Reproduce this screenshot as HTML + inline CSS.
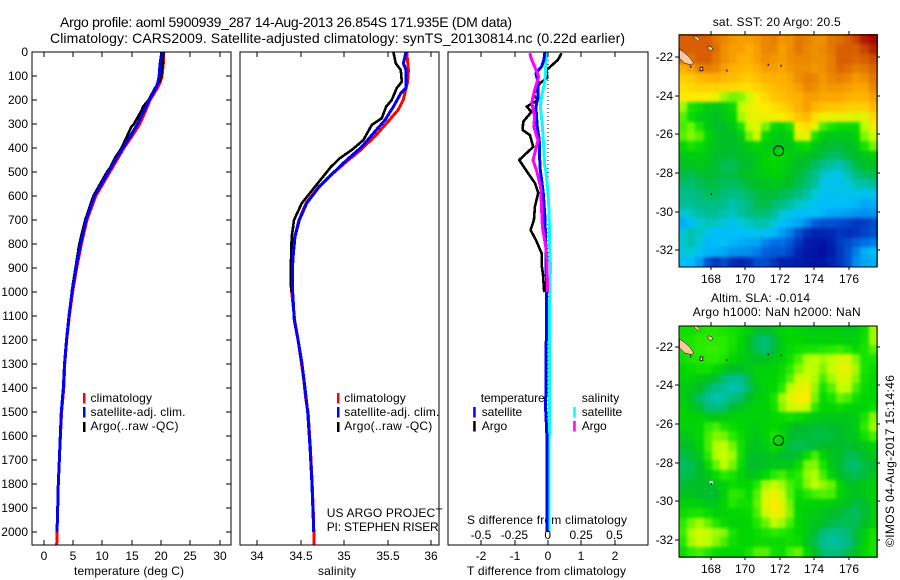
<!DOCTYPE html>
<html lang="en">
<head>
<meta charset="utf-8">
<title>Argo profile 5900939_287</title>
<style>
html,body{margin:0;padding:0;background:#fff;}
svg{display:block;}
text{font-family:"Liberation Sans",sans-serif;font-size:12px;fill:#000;}
.t14{font-size:14px;}
</style>
</head>
<body>
<svg id="chart" xmlns="http://www.w3.org/2000/svg" width="900" height="580" viewBox="0 0 900 580">
<defs>
<filter id="cell-smooth" x="0" y="0" width="1" height="1" color-interpolation-filters="sRGB">
<feGaussianBlur stdDeviation="1.7"/>
<feComponentTransfer><feFuncA type="linear" slope="40"/></feComponentTransfer>
</filter>
</defs>
<rect x="0" y="0" width="900" height="580" fill="#fff"/>
<text class="t14" x="60" y="27" textLength="452" lengthAdjust="spacing">Argo profile: aoml 5900939_287 14-Aug-2013 26.854S 171.935E (DM data)</text>
<text class="t14" x="50" y="43" textLength="575" lengthAdjust="spacing">Climatology: CARS2009. Satellite-adjusted climatology: synTS_20130814.nc (0.22d earlier)</text>

<text x="74" y="575" textLength="110" lengthAdjust="spacing">temperature (deg C)</text>
<text x="318" y="575" textLength="38" lengthAdjust="spacing">salinity</text>
<text x="467" y="575" textLength="159" lengthAdjust="spacing">T difference from climatology</text>
<text x="467" y="524" textLength="160" lengthAdjust="spacing">S difference from climatology</text>

<text x="326.7" y="517" textLength="116" lengthAdjust="spacing">US ARGO PROJECT</text>
<text x="326.7" y="531" textLength="112" lengthAdjust="spacing">PI: STEPHEN RISER</text>

<text x="712.7" y="26" textLength="128" lengthAdjust="spacing">sat. SST: 20 Argo: 20.5</text>
<text x="711" y="302" textLength="99" lengthAdjust="spacing">Altim. SLA: -0.014</text>
<text x="692.7" y="316" textLength="168" lengthAdjust="spacing">Argo h1000: NaN h2000: NaN</text>
<text transform="translate(894,547) rotate(-90)" x="0" y="0" textLength="172" lengthAdjust="spacing">©IMOS 04-Aug-2017 15:14:46</text>

<g>
<rect x="83" y="393" width="2.5" height="10.5" fill="#f00"/>
<rect x="83" y="407" width="2.5" height="10.5" fill="#00f"/>
<rect x="83" y="422" width="2.5" height="10" fill="#000"/>
<text x="90.5" y="402" textLength="61.5" lengthAdjust="spacing">climatology</text>
<text x="90.5" y="416" textLength="95" lengthAdjust="spacing">satellite-adj. clim.</text>
<text x="90.5" y="430" textLength="88" lengthAdjust="spacing">Argo(..raw -QC)</text>
</g>
<g>
<rect x="337" y="393" width="2.5" height="10.5" fill="#f00"/>
<rect x="337" y="407" width="2.5" height="10.5" fill="#00f"/>
<rect x="337" y="422" width="2.5" height="10" fill="#000"/>
<text x="344.3" y="402" textLength="61.5" lengthAdjust="spacing">climatology</text>
<text x="344.3" y="416" textLength="95" lengthAdjust="spacing">satellite-adj. clim.</text>
<text x="344.3" y="430" textLength="88" lengthAdjust="spacing">Argo(..raw -QC)</text>
</g>
<g id="diff-legend-layer"></g>
</svg>
<script>
// ---------- profile data ----------
var tempClimDepth = [0,50,100,125,150,200,250,300,350,400,450,500,600,700,800,900,1000,1100,1200,1300,1400,1500,1600,1700,1800,1900,2000,2054];
var tempClim = [20.5,20.4,20.2,19.9,19.4,18.15,17.3,16.4,15.1,13.7,12.5,11.3,8.9,7.4,6.45,5.65,4.95,4.4,3.95,3.62,3.45,3.08,2.88,2.7,2.52,2.42,2.3,2.25];
var tempSatDepth = [0,50,100,125,150,200,250,300,350,400,450,500,600,700,800,900,1000,1100,1200,1300,1400,1500,1600,1700,1800,1900,2000];
var tempSat = [20.15,19.85,19.7,19.5,19.15,18,17,16,14.8,13.5,12.25,11.04,8.65,7.24,6.3,5.54,4.86,4.34,3.92,3.58,3.38,3.03,2.86,2.7,2.52,2.42,2.3];
var tempArgoDepth = [0,50,110,120,150,200,230,240,300,310,400,440,480,500,600,700,800,900,1000];
var tempArgo = [20.4,20.3,20,19.8,19,17.9,16.9,16.8,15.4,15,13.3,12.2,11.4,10.8,8.5,7.1,6.1,5.45,4.8];

var salClimDepth = [0,75,125,200,242,296,349,408,462,512,561,630,700,770,840,910,977,1048,1117,1200,1300,1367,1450,1504,1644,1783,1921,2054];
var salClim = [35.72,35.74,35.73,35.68,35.62,35.49,35.36,35.19,35.01,34.85,34.71,34.56,34.48,34.43,34.41,34.39,34.39,34.41,34.43,34.47,34.51,34.535,34.56,34.585,34.61,34.63,34.645,34.655];
var salSatDepth = [0,47,75,150,172,228,283,339,395,450,512,561,630,700,770,840,910,977,1048,1117,1200,1300,1367,1450,1504,1644,1783,1921,2000];
var salSat = [35.713,35.682,35.713,35.713,35.652,35.567,35.471,35.336,35.203,35.03,34.849,34.714,34.569,34.484,34.434,34.415,34.403,34.403,34.415,34.426,34.469,34.515,34.538,34.565,34.581,34.607,34.627,34.642,34.65];
var salArgoDepth = [0,47,75,124,150,200,228,276,304,367,408,442,478,492,561,630,700,770,910,1000];
var salArgo = [35.567,35.594,35.652,35.664,35.606,35.548,35.483,35.433,35.318,35.221,35.088,34.953,34.849,34.818,34.665,34.512,34.423,34.396,34.385,34.39];

var dTempArgoDepth = [5,33,75,108,130,179,200,228,249,290,325,346,395,408,450,492,546,587,645,700,742,783,838,895,936,992,1000];
var dTempArgo = [0.41,0.3,-0.04,-0.02,-0.24,-0.44,-0.3,-0.64,-0.49,-0.74,-0.76,-0.54,-0.44,-0.54,-0.86,-0.66,-0.39,-0.29,-0.39,-0.42,-0.52,-0.36,-0.19,-0.18,-0.14,-0.12,-0.1];
var dTempSatDepth = [0,33,61,89,130,186,228,311,367,478,587,686,825,1033,1400,1480,1600,2000];
var dTempSat = [-0.09,-0.12,-0.19,-0.36,-0.29,-0.29,-0.36,-0.32,-0.26,-0.24,-0.14,-0.09,-0.06,-0.04,-0.06,-0.07,-0.03,-0.025];
var dSalSatDepth = [0,61,117,186,228,311,400,478,492,587,660,825,890,1033,1400,2000];
var dSalSat = [-0.005,-0.015,-0.02,-0.047,-0.055,-0.04,-0.03,-0.022,-0.015,0.002,0.01,0.015,0.02,0.015,0.012,0.01];
var dSalArgoDepth = [5,33,61,103,158,212,270,311,367,450,492,561,645,728,811,880,920,1000];
var dSalArgo = [-0.135,-0.12,-0.098,-0.068,-0.098,-0.12,-0.098,-0.105,-0.073,-0.11,-0.085,-0.053,-0.047,-0.04,-0.015,-0.005,-0.005,0];

// ---------- tick labels ----------
var depthTicks = [0,100,200,300,400,500,600,700,800,900,1000,1100,1200,1300,1400,1500,1600,1700,1800,1900,2000];
var tempTicks = [0,5,10,15,20,25,30];
var salTicks = [34,34.5,35,35.5,36];
var dTempTicks = [-2,-1,0,1,2];
var dSalTicks = [-0.5,-0.25,0,0.25,0.5];
var lonTicks = [168,170,172,174,176];
var sstLatTicks = [-22,-24,-26,-28,-30,-32];
var slaLatTicks = [-22,-24,-26,-28,-30,-32];
var argoLon = [171.935];
var argoLat = [-26.854];

// ---------- gridded map data (colour level, 0 = coldest/lowest, 11 = warmest/highest) ----------
var sstGrid = [
[10,10,10,10,9.7,9.5,9.3,9.2,9.2,9.3,9.5,9.6,9.3,9.4,9.7,9.6,9.4,9.4,9.7,9.8,10,10.3,10.8,11],
[10,10,10,10,9.8,9.4,9.2,9.2,9,9.2,9.5,9.5,9.2,9.4,9.7,9.5,9.4,9.5,9.7,10,10,10,10.3,10.7],
[9.7,9.7,10,10,9.7,9.4,9.2,9,9,9.2,9.4,9.3,9.2,9.4,9.5,9.5,9.4,9.4,9.6,10,10,9.9,10,10.2],
[9,9.2,9.5,9.6,9.5,9.2,9,8.9,8.8,9,9.2,9.2,9.1,9.3,9.4,9.4,9.3,9.4,9.6,9.9,9.8,9.6,9.7,9.9],
[8.5,8.6,8.8,8.9,9,8.9,8.8,8.6,8.5,8.7,8.9,9,9,9.1,9.4,9.6,9.5,9.3,9.5,9.6,9.5,9.3,9.4,9.7],
[8.2,8.3,8.4,8.4,8.4,8.3,8.3,8.2,8.2,8.4,8.6,8.8,8.9,9,9.2,9.5,9.4,9.2,9.3,9.3,9.2,9.1,9.1,9.5],
[8,8,8,7.9,7.7,6.8,6.5,6.6,7.2,8,8.3,8.6,8.7,8.9,9,9.2,9.2,9.1,9.1,9.1,9,8.9,8.9,9.2],
[6.8,5.8,5.6,5.3,5.2,5.3,5.6,7,7.6,7.8,8,8.2,8.4,8.6,9,9.2,8.9,8.7,8.6,8.6,8.5,8.5,8.5,8.8],
[6.3,5.6,5.3,5.2,5.1,5.2,5.4,6.8,7.5,7.7,7.7,7.8,7.9,8.2,8.6,8.8,8.2,7.8,7.7,7.7,7.6,7.4,7.5,8.3],
[6.2,6.5,5.8,5.2,5,5,5.2,5.8,7.2,7.5,6.5,5.6,5.5,5.8,8,8.2,7.5,6.2,5.8,5.6,5.6,5.6,7,7.8],
[6.3,6.6,6.3,5.5,5.1,5,5,5.3,6.5,7.2,5.6,5.3,5.2,5.4,7.5,7.6,5.8,5.3,5.2,5.2,5.2,5.4,6.6,7.2],
[5.5,5.8,5.6,5.3,5.1,5,5,5.1,5.3,5.5,5.3,5.2,5.2,5.2,5.5,5.6,5.2,5,4.9,4.9,5,5.2,5.8,6.5],
[5.2,5.3,5.3,5.2,5,5,4.9,5,5.1,5.2,5.4,5.5,5.5,5.3,5.2,5.1,5,4.8,4.6,4.6,4.8,5,5.2,5.3],
[5.1,5.1,5.2,5.1,4.9,4.7,4.7,4.9,5,5.2,5.4,5.5,5.4,5.2,5,4.9,4.6,4.2,3.9,3.8,4.2,4.8,5,5.1],
[4.8,4.7,4.9,5,4.9,4.8,4.8,5,5.1,5.2,5.3,5.4,5.3,5.1,4.9,4.6,4.2,3.6,3.3,3.3,3.7,4.2,4.6,4.7],
[4.5,4.5,4.7,4.8,4.8,4.6,4.6,4.7,4.9,5,5.1,5.2,5.1,5,4.7,4.4,3.9,3.3,3.2,3.2,3.4,3.8,3.8,4],
[4.2,4.2,4.4,4.6,4.6,4.4,4.2,4.3,4.6,4.8,4.9,4.9,4.7,4.6,4.3,3.9,3.5,3.2,3.1,3.2,3.2,3.2,3.1,3.2],
[4,4,4.2,4.3,4.3,4.1,3.8,4,4.3,4.7,4.8,4.5,4.2,3.9,3.6,3.4,3.2,3,3,3,3,2.9,2.7,2.8],
[3.5,3.6,3.9,4,4,3.8,3.7,3.9,4.2,4.4,4.4,4,3.5,3.2,3,3,3,2.9,2.7,2.7,2.6,2.5,2.4,2.5],
[2.8,3.1,3.5,3.7,3.6,3.4,3.2,3.4,3.6,3.8,3.8,3.4,3,2.9,2.7,2.3,1.8,1.6,1.6,1.5,1.4,1.2,1.3,1.5],
[3.4,3.8,3.6,3.2,3,3,3,3,3.1,3.2,3.1,2.9,2.6,2.2,1.6,1.1,0.9,0.9,1,1.2,1.1,1.2,1.4,1.6],
[3.5,3.8,3.4,2.9,3,3.1,2.9,2.8,2.7,2.7,2.3,2,2,1.7,1.2,0.7,0.6,0.5,0.8,1.3,1.5,1.8,2,2.2],
[3.3,3.5,3.1,2.9,2.8,2.7,2.5,2.4,2.4,2.2,1.8,1.7,1.7,1.4,0.9,0.6,0.5,0.4,0.7,1.2,1.6,2.2,2.8,3],
[3,3,2.6,1.6,1.2,1.5,1.1,0.9,1.1,1.5,1.5,1.2,0.8,0.8,0.7,0.6,0.5,0.5,0.9,1.2,1.6,2.4,2.7,2.8]
];
var slaGrid = [
[5.7,5.7,5.8,5.9,5.9,5.8,5.7,5.6,5.3,5,5,5.2,5.4,5.5,5.4,5.3,5.3,5.3,5.3,5.3,5.2,5.3,5.6,6.8],
[5.8,5.8,6,6,6,6,5.8,5.5,5.1,4.6,4.4,4.8,5.3,5.5,5.5,5.4,5.4,5.4,5.4,5.4,5.3,5.4,5.7,6.8],
[5.8,5.9,6,6.1,6.1,6,5.7,5.4,5.1,4.7,4.5,4.9,5.3,5.6,5.7,5.8,5.8,5.9,6,6.1,5.9,5.6,5.8,6.3],
[5.7,5.8,5.9,6,6,5.8,5.5,5.3,5.2,5.1,5.1,5.2,5.4,5.7,6.2,6.9,7,6.8,7,7.4,7.4,6.6,5.8,5.8],
[5.5,5.6,5.7,5.7,5.5,5.2,5,5,5.2,5.4,5.4,5.4,5.6,6,6.6,7,7,6.6,7.1,7.6,7.6,6.8,5.8,5.6],
[5.4,5.4,5.3,5.1,4.9,4.5,4.1,4.2,4.8,5.3,5.4,5.4,5.7,6.3,7.2,7.4,6.9,6.2,6.8,7.4,7.3,6.6,5.7,5.5],
[5.3,5.2,5,4.6,4.3,4,3.8,3.9,4.6,5.2,5.4,5.5,6,7,7.6,7.8,6.7,5.8,6.3,7.1,7,6.2,5.6,5.5],
[5.3,5.1,4.6,4,3.8,3.9,4.3,4.6,5,5.3,5.4,5.8,6.8,7.4,7.9,7.9,6.5,5.6,5.8,6.4,6.2,5.7,5.5,5.5],
[5.4,5.2,4.9,4.4,4.3,4.5,4.9,5.1,5.3,5.4,5.4,5.7,6.6,7.2,7.3,7,6,5.5,5.5,5.6,5.5,5.4,5.4,5.7],
[5.5,5.4,5.4,5.3,5.2,5.3,5.4,5.4,5.4,5.4,5.4,5.5,5.6,5.7,5.6,5.4,5.3,5.2,5.2,5.2,5.2,5.3,5.8,6.6],
[5.4,5.4,5.5,6,6.2,5.8,5.6,5.5,5.3,5.3,5.4,5.5,5.4,5.2,5,5,4.9,4.9,5,5,5.1,5.3,6,6.8],
[5.2,5.3,5.5,6.2,6.6,6.5,6,5.6,5.3,5.2,5.4,5.8,5.5,5,4.9,4.9,4.8,4.8,4.9,5,5.1,5.2,5.7,6.2],
[5,5.1,5.4,6.2,6.9,7,6.5,5.7,5.2,5.1,5.3,5.6,5.3,4.8,4.7,4.8,4.9,5,5,5,4.9,5,5.2,5.4],
[4.8,4.9,5.2,6,6.9,7.2,6.8,5.7,5.1,5,5.1,5.2,5,4.9,5.1,5.6,6.2,5.5,5.1,5,4.7,4.7,5,5.2],
[4.6,4.7,5,5.6,6.4,7,6.5,5.6,5,5,5.1,5.2,5.2,5.2,5.6,6.5,6.6,5.8,5.2,4.9,4.6,4.5,4.8,5],
[4.7,4.8,5,5.2,5.6,6,5.8,5.4,5.2,5.2,5.5,6,6.2,5.8,6,6.7,6.9,6.2,5.5,5,4.8,4.7,4.9,5.2],
[4.9,5,5,5,5.2,5.4,5.6,5.5,5.5,5.9,6.8,7.2,6.8,6.2,5.9,6.6,7,6.7,6.4,5.5,5.1,5.1,5.2,5.3],
[5.1,5.1,5,4.9,5,5.4,6,5.9,5.6,6.3,7.3,7.7,7.2,6.3,5.6,5.9,6.2,6.3,6.2,5.5,5.2,5.1,5.2,5.4],
[5.4,5.4,5.3,5.2,5.2,5.5,5.9,5.7,5.7,6.4,7.5,8,7.6,6.5,5.5,5.4,5.4,5.4,5.3,5.2,5,4.8,5,5.3],
[5.6,5.8,5.8,5.6,5.4,5.4,5.5,5.5,5.6,6.2,7.2,7.8,7.6,6.6,5.5,5.3,5.3,5.2,5,4.9,4.7,4.6,4.9,5.3],
[6,6.5,6.8,6.4,5.9,5.6,5.4,5.4,5.5,5.9,6.4,7,6.8,6.2,5.5,5.3,5.2,5,4.8,4.7,4.7,4.7,5,5.3],
[6.1,6.9,7.3,7,6.8,6.6,5.8,5.5,5.5,5.6,5.8,6,5.9,5.7,5.5,5.3,4.9,4.4,4.2,4.2,4.5,4.9,5.3,5.7],
[5.9,6.8,7.2,7,6.6,6.2,5.7,5.5,5.5,5.6,5.6,5.6,5.6,5.7,5.6,5.2,4.7,4.1,3.9,4,4.3,4.8,5.4,5.8],
[5.6,6,6.2,5.9,5.6,5.5,5.5,5.5,5.8,6.3,6.3,5.7,5.6,6.2,6.4,5.5,5,4.5,4.3,4.4,4.7,5.1,5.5,5.8]
];

// ---------- coastlines (lon, lat) ----------
var newCaledoniaLon = [166.1,166.41,166.8,167,166.9,166.51,166.1];
var newCaledoniaLat = [-21.6,-21.73,-22.03,-22.3,-22.41,-22.33,-22.07];
var loyaltyNorthLon = [167,167.2,167.38,167.3,167.1];
var loyaltyNorthLat = [-20.91,-20.95,-21.12,-21.18,-21.05];
var loyaltySouthLon = [167.85,168.05,168.12,168,167.83];
var loyaltySouthLat = [-21.43,-21.48,-21.62,-21.68,-21.55];
var smallIsleLon = [167.38,167.54,167.54,167.38];
var smallIsleLat = [-22.53,-22.53,-22.71,-22.71];
var rockLon = [166.8,168.9,171.3,172.05,168];
var rockLat = [-22.45,-22.65,-22.35,-22.4,-29.05];

// ---------- helpers ----------
var svg = document.getElementById('chart');
var NS = 'http://www.w3.org/2000/svg';
function mk(tag, name, parent) {
  var el = document.createElementNS(NS, tag);
  
  
  (parent || svg).appendChild(el);
  return el;
}
function scale(d0, d1, p0, p1) { return function (v) { return p0 + (v - d0) * (p1 - p0) / (d1 - d0); }; }
function segment(x1, y1, x2, y2, name, parent) {
  var l = mk('line', name, parent);
  l.setAttribute('x1', x1); l.setAttribute('y1', y1);
  l.setAttribute('x2', x2); l.setAttribute('y2', y2);
  l.setAttribute('stroke', '#000');
  l.setAttribute('stroke-width', 1);
  l.setAttribute('shape-rendering', 'crispEdges');
  return l;
}
function label(x, y, str, anchor, name, parent) {
  var t = mk('text', name, parent);
  t.setAttribute('x', x); t.setAttribute('y', y);
  t.setAttribute('text-anchor', anchor);
  t.textContent = str;
  return t;
}
function frame(x, y, w, h, name, parent) {
  var r = mk('rect', name, parent);
  r.setAttribute('x', x); r.setAttribute('y', y);
  r.setAttribute('width', w); r.setAttribute('height', h);
  r.setAttribute('fill', 'none');
  r.setAttribute('stroke', '#000');
  r.setAttribute('stroke-width', 1.3);
  r.setAttribute('shape-rendering', 'crispEdges');
  return r;
}
function curve(xs, ds, xScale, yScale, color, width, name, parent) {
  var p = mk('polyline', name, parent);
  var pts = [];
  for (var i = 0; i < xs.length; i++) pts.push(xScale(xs[i]).toFixed(2) + ',' + yScale(ds[i]).toFixed(2));
  p.setAttribute('points', pts.join(' '));
  p.setAttribute('fill', 'none');
  p.setAttribute('stroke', color);
  p.setAttribute('stroke-width', width);
  p.setAttribute('stroke-linejoin', 'round');
  p.setAttribute('shape-rendering', 'crispEdges');
  return p;
}

// ---------- shared axes ----------
var TOP = 52, BOTTOM = 545;
var yDepth = scale(0, 2000, 52, 532);

// panel 1: temperature
var p1 = mk('g', 'temperature-panel');
var xTemp = scale(0, 30, 43.5, 219.6);
curve(tempClim, tempClimDepth, xTemp, yDepth, '#f00', 3, 'temperature-climatology-line', p1);
curve(tempArgo, tempArgoDepth, xTemp, yDepth, '#000', 2.6, 'temperature-argo-line', p1);
curve(tempSat, tempSatDepth, xTemp, yDepth, '#00f', 3, 'temperature-satellite-line', p1);
frame(32, TOP, 199, BOTTOM - TOP, 'temperature-plot-frame', p1);
depthTicks.forEach(function (d) {
  var y = Math.round(yDepth(d));
  segment(32, y, 37, y, 'depth-tick-left', p1);
  segment(226, y, 231, y, 'depth-tick-right', p1);
  label(28, y + 4, String(d), 'end', 'depth-tick-label', p1);
});
tempTicks.forEach(function (v) {
  var x = Math.round(xTemp(v));
  segment(x, TOP, x, TOP + 5, 'temperature-tick-top', p1);
  segment(x, BOTTOM - 5, x, BOTTOM, 'temperature-tick-bottom', p1);
  label(x, 560, String(v), 'middle', 'temperature-tick-label', p1);
});

// panel 2: salinity
var p2 = mk('g', 'salinity-panel');
var xSal = scale(34, 36, 257.3, 431);
curve(salClim, salClimDepth, xSal, yDepth, '#f00', 3, 'salinity-climatology-line', p2);
curve(salArgo, salArgoDepth, xSal, yDepth, '#000', 2.6, 'salinity-argo-line', p2);
curve(salSat, salSatDepth, xSal, yDepth, '#00f', 3, 'salinity-satellite-line', p2);
frame(240, TOP, 199, BOTTOM - TOP, 'salinity-plot-frame', p2);
salTicks.forEach(function (v) {
  var x = Math.round(xSal(v));
  segment(x, TOP, x, TOP + 5, 'salinity-tick-top', p2);
  segment(x, BOTTOM - 5, x, BOTTOM, 'salinity-tick-bottom', p2);
  label(x, 560, String(v), 'middle', 'salinity-tick-label', p2);
});

// panel 3: differences
var p3 = mk('g', 'difference-panel');
var xDT = scale(-2, 2, 481.3, 614.5);
var xDS = scale(-0.5, 0.5, 481, 614.5);
var zero = mk('line', 'zero-reference-line', p3);
zero.setAttribute('x1', xDT(0)); zero.setAttribute('x2', xDT(0));
zero.setAttribute('y1', TOP); zero.setAttribute('y2', 532);
zero.setAttribute('stroke', '#000');
zero.setAttribute('stroke-width', 1);
zero.setAttribute('stroke-dasharray', '1 3');
zero.setAttribute('shape-rendering', 'crispEdges');
curve(dTempArgo, dTempArgoDepth, xDT, yDepth, '#000', 2.6, 'temperature-diff-argo-line', p3);
curve(dSalSat, dSalSatDepth, xDS, yDepth, '#0ff', 3, 'salinity-diff-satellite-line', p3);
curve(dTempSat, dTempSatDepth, xDT, yDepth, '#00f', 3, 'temperature-diff-satellite-line', p3);
curve(dSalArgo, dSalArgoDepth, xDS, yDepth, '#f0f', 3, 'salinity-diff-argo-line', p3);
frame(448, TOP, 200, BOTTOM - TOP, 'difference-plot-frame', p3);
dTempTicks.forEach(function (v) {
  var x = Math.round(xDT(v));
  segment(x, TOP, x, TOP + 5, 'temperature-diff-tick-top', p3);
  segment(x, BOTTOM - 5, x, BOTTOM, 'temperature-diff-tick-bottom', p3);
  label(x, 560, String(v), 'middle', 'temperature-diff-tick-label', p3);
});
dSalTicks.forEach(function (v) {
  label(xDS(v), 539, String(v), 'middle', 'salinity-diff-tick-label', p3);
});

// difference legend
var lg = document.getElementById('diff-legend-layer');
var legendItems = [
  ['temperature', 480.7, 402, 64, null],
  ['satellite', 481.7, 416, 40.5, '#00f'],
  ['Argo', 481.7, 430, 25.5, '#000'],
  ['salinity', 581.7, 402, 37.5, null],
  ['satellite', 581.7, 416, 40.5, '#0ff'],
  ['Argo', 581.7, 430, 25, '#f0f']
];
svg.appendChild(lg);
legendItems.forEach(function (it) {
  var t = label(it[1], it[2], it[0], 'start', 'difference-legend-label', lg);
  t.setAttribute('textLength', it[3]);
  t.setAttribute('lengthAdjust', 'spacing');
  if (it[4]) {
    var s = mk('rect', 'difference-legend-swatch', lg);
    s.setAttribute('x', it[1] - 8.5);
    s.setAttribute('y', it[2] - 9);
    s.setAttribute('width', 2.5);
    s.setAttribute('height', 10.5);
    s.setAttribute('fill', it[4]);
  }
});

// ---------- maps ----------
var ramp = [[0,0,0,150],[1,0,40,180],[2,0,110,230],[3,0,190,250],[3.5,0,200,210],[4,0,190,150],[4.5,0,190,110],[5,0,190,40],[5.5,0,215,0],[6,40,235,0],[7,190,255,0],[8,255,235,0],[9,255,175,0],[10,215,95,0],[11,165,10,0]];
function levelColor(v) {
  for (var i = 1; i < ramp.length; i++) {
    if (v <= ramp[i][0]) {
      var a = ramp[i - 1], b = ramp[i], f = (v - a[0]) / (b[0] - a[0]);
      return 'rgb(' + Math.round(a[1] + (b[1] - a[1]) * f) + ',' + Math.round(a[2] + (b[2] - a[2]) * f) + ',' + Math.round(a[3] + (b[3] - a[3]) * f) + ')';
    }
  }
  return 'rgb(165,10,0)';
}
function drawMap(mapName, grid, latTicks, y22, yTopPx, yBottomPx, labelY, isSla) {
  var g = mk('g', mapName);
  var cellsGroup = mk('g', 'map-cells', g);
  cellsGroup.setAttribute('filter', 'url(#cell-smooth)');
  var xLon = scale(168, 176, 710.7, 848.7);
  var yLat = scale(-22, -32, y22, y22 + 193.2);
  var lonMin = 166.18, lonMax = 177.66;
  var latTop = -22 + (y22 - yTopPx) / 19.32, latBot = -22 - (yBottomPx - y22) / 19.32;
  var rows = grid.length, cols = grid[0].length;
  var dLon = (lonMax - lonMin) / cols, dLat = (latTop - latBot) / rows;
  for (var r = 0; r < rows; r++) {
    for (var c = 0; c < cols; c++) {
      var cell = mk('rect', 'map-cell', cellsGroup);
      var x0 = Math.floor(xLon(lonMin + c * dLon)), x1 = Math.ceil(xLon(lonMin + (c + 1) * dLon));
      var y0 = Math.floor(yLat(latTop - r * dLat)), y1 = Math.ceil(yLat(latTop - (r + 1) * dLat));
      cell.setAttribute('x', x0);
      cell.setAttribute('y', y0);
      cell.setAttribute('width', x1 - x0);
      cell.setAttribute('height', y1 - y0);
      cell.setAttribute('fill', levelColor(grid[r][c]));
      cell.setAttribute('shape-rendering', 'crispEdges');
    }
  }
  function island(lons, lats, name, sw) {
    var p = mk('polygon', name, g);
    var pts = [];
    for (var i = 0; i < lons.length; i++) pts.push(Math.max(679.5, xLon(lons[i])).toFixed(1) + ',' + yLat(lats[i]).toFixed(1));
    p.setAttribute('points', pts.join(' '));
    p.setAttribute('fill', '#ffc8a0');
    p.setAttribute('stroke', '#000');
    p.setAttribute('stroke-width', sw);
  }
  island(newCaledoniaLon, newCaledoniaLat, 'new-caledonia-island', 0.5);
  island(loyaltyNorthLon, loyaltyNorthLat, 'loyalty-island-north', 0.4);
  island(loyaltySouthLon, loyaltySouthLat, 'loyalty-island-south', 0.5);
  island(smallIsleLon, smallIsleLat, 'small-island', 0.8);
  rockLon.forEach(function (lon, i) {
    if (isSla && i === 4) {
      var w = mk('rect', 'norfolk-island', g);
      w.setAttribute('x', xLon(lon) - 1);
      w.setAttribute('y', yLat(rockLat[i]) - 2);
      w.setAttribute('width', 3);
      w.setAttribute('height', 3);
      w.setAttribute('fill', '#fff');
    }
    var d = mk('rect', 'island-dot', g);
    d.setAttribute('x', xLon(lon));
    d.setAttribute('y', yLat(rockLat[i]));
    d.setAttribute('width', 1.2);
    d.setAttribute('height', 2);
    d.setAttribute('fill', '#000');
  });
  var marker = mk('circle', 'argo-position-marker', g);
  marker.setAttribute('cx', xLon(argoLon[0]));
  marker.setAttribute('cy', yLat(argoLat[0]));
  marker.setAttribute('r', 5);
  marker.setAttribute('fill', 'none');
  marker.setAttribute('stroke', '#000');
  marker.setAttribute('stroke-width', 1);
  frame(679, yTopPx, 198, yBottomPx - yTopPx, 'map-frame', g);
  lonTicks.forEach(function (v) {
    var x = Math.round(xLon(v));
    segment(x, yTopPx - 4, x, yTopPx, 'longitude-tick-top', g);
    segment(x, yBottomPx, x, yBottomPx + 3, 'longitude-tick-bottom', g);
    label(x, labelY, String(v), 'middle', 'longitude-tick-label', g);
  });
  latTicks.forEach(function (v) {
    var y = Math.round(yLat(v));
    segment(675, y, 679, y, 'latitude-tick-left', g);
    segment(877, y, 880, y, 'latitude-tick-right', g);
    label(673, y + 4, String(v), 'end', 'latitude-tick-label', g);
  });
}
drawMap('sst-map', sstGrid, sstLatTicks, 57, 35, 267, 283, false);
drawMap('sla-map', slaGrid, slaLatTicks, 346.7, 326, 557, 573, true);
</script>
</body>
</html>
